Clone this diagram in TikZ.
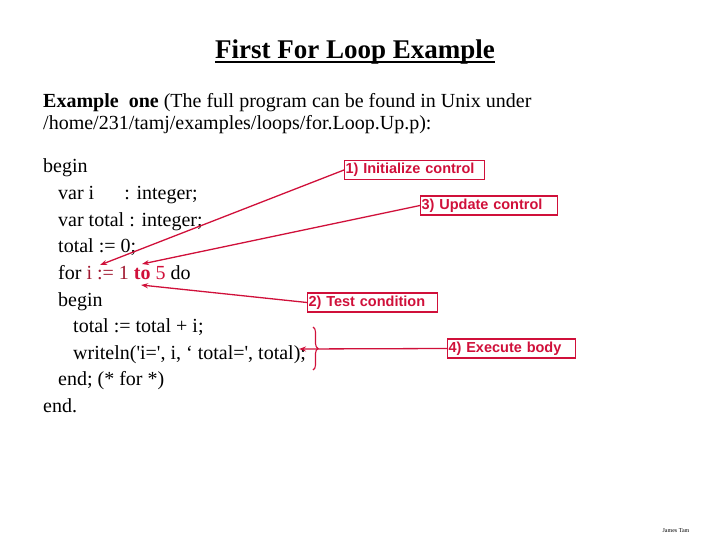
\documentclass[tikz,border=0pt]{standalone}
\usepackage{fontspec}
\setmainfont{Liberation Serif}
\newfontfamily\lsans{Liberation Sans}
\usetikzlibrary{arrows.meta,decorations.pathreplacing}
\definecolor{crim}{HTML}{D0103A}
\definecolor{dkred}{HTML}{A01830}
\tikzset{code/.style={anchor=base west,inner sep=0pt,font=\fontsize{20}{22}\selectfont},
lab/.style={draw=crim,line width=1.2pt,text=crim,font=\lsans\bfseries\fontsize{14.5}{16}\selectfont,inner xsep=1pt,inner ysep=0pt,anchor=west,minimum height=19pt,align=left},
arr/.style={crim,line width=1.3pt,-{Stealth[length=7pt,width=5pt]}}}
\newcommand\sq{\textquotesingle}
\begin{document}
\begin{tikzpicture}[x=1pt,y=-1pt]
\useasboundingbox (0,0) rectangle (720,540);
\node[font=\fontsize{27}{30}\selectfont\bfseries,inner sep=0pt,anchor=base] (title) at (355,59) {First For Loop Example};
\draw[line width=1.2pt] ([yshift=-3pt]title.base west) -- ([yshift=-3pt]title.base east);
\node[code,font=\fontsize{20}{22}\selectfont] (ex1) at (43,108) {\textbf{Example\ \ one} (The full program can be found in Unix under};
\node[code,font=\fontsize{20}{22}\selectfont] (ex2) at (43,130) {/home/231/tamj/examples/loops/for.Loop.Up.p):};
\node[code] (l0) at (43,173) {begin};
\node[code] (l1) at (58,199.6) {var i\hspace{30pt}: integer;};
\node[code] (l2) at (58,226.2) {var total : integer;};
\node[code] (l3) at (58,252.8) {total := 0;};
\node[code] (l4) at (58,279.4) {for \textcolor{dkred}{i := 1} \textcolor{crim}{\textbf{to} 5} do};
\node[code] (l5) at (58,306) {begin};
\node[code] (l6) at (73,332.6) {total := total + i;};
\node[code] (l7) at (73,359.2) {writeln(\sq i=\sq, i, ‘ total=\sq, total);};
\node[code] (l8) at (58,385.8) {end; (* for *)};
\node[code] (l9) at (43,412.4) {end.};
\node[lab,text width=138pt] (b1) at (344,170) {1) Initialize control};
\node[lab,text width=135pt] (b3) at (420,205.5) {3) Update control};
\node[lab,text width=128pt] (b2) at (307,302.5) {2) Test condition};
\node[lab,text width=126pt] (b4) at (447,348.5) {4) Execute body};
\coordinate (t1) at (100,265);
\coordinate (t3) at (142,264);
\coordinate (t2) at (141,285);
\coordinate (t4) at (299,349);
\draw[arr] (b1.west) -- (t1);
\draw[arr] (b3.west) -- (t3);
\draw[arr] (b2.west) -- (t2);
\draw[arr] (b4.west) -- (t4);
\draw[crim,line width=1.1pt,decorate,decoration={brace,amplitude=5pt}] (313,327) -- (313,370);
\node[font=\fontsize{6}{7}\selectfont] (foot) at (676,531) {James Tam};
\end{tikzpicture}
\end{document}
